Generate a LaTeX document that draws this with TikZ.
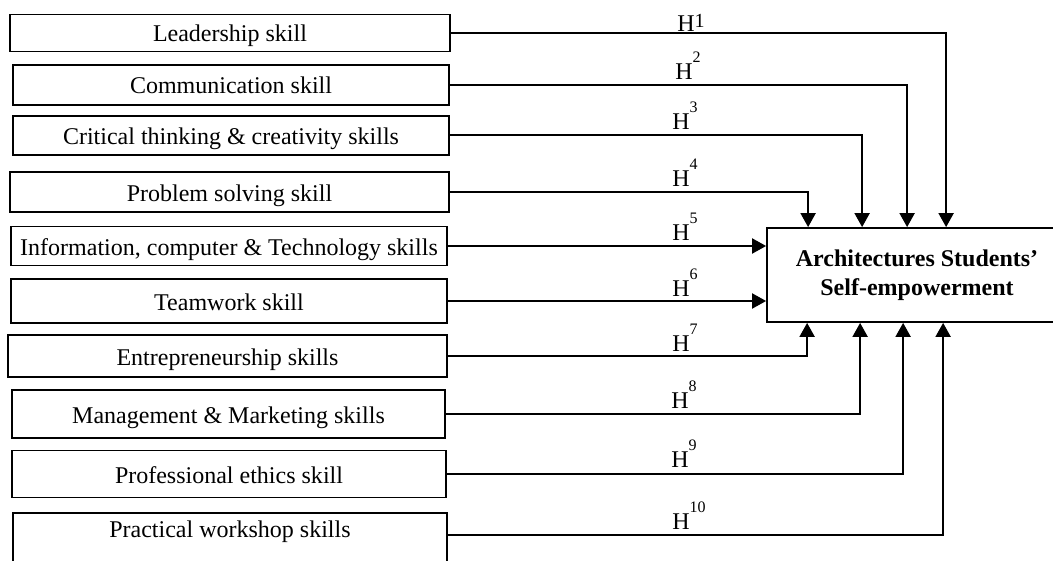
\documentclass[tikz,border=0pt]{standalone}
\usepackage{fontspec}
\setmainfont{Liberation Serif}
\usetikzlibrary{arrows.meta}

\newcommand\hyp[2][8.5pt]{H\raisebox{#1}{\fontsize{8}{8}\selectfont #2}}

\begin{document}
\begin{tikzpicture}[x=0.5pt,y=-0.5pt,
  skill/.style={draw,line width=0.9pt,inner sep=0pt,minimum width=218pt,
    text height=11pt,text depth=2pt,font=\fontsize{12}{14.5}\selectfont},
  outcome/.style={draw,line width=0.9pt,inner sep=0pt,align=center,
    font=\fontsize{12}{14.5}\selectfont\bfseries},
  link/.style={line width=1pt,-{Triangle[width=7.5pt,length=7pt]}},
  hlabel/.style={anchor=south west,inner sep=0pt,font=\fontsize{12}{14.5}\selectfont}]
  \useasboundingbox (0,0) rectangle (1053,561);

  \node[skill,minimum width=220pt,minimum height=18.5pt] (lead) at (230,33) {Leadership skill};
  \node[skill,minimum height=20pt] (comm) at (231,85) {Communication skill};
  \node[skill,minimum height=19.5pt] (crit) at (231,135.5) {Critical thinking \& creativity skills};
  \node[skill,minimum width=219.5pt,minimum height=20pt] (prob) at (229.5,192) {Problem solving skill};
  \node[skill,minimum height=19.5pt] (info) at (229,246) {Information, computer \& Technology skills};
  \node[skill,minimum height=22pt] (team) at (229,301) {Teamwork skill};
  \node[skill,minimum width=219.5pt,minimum height=21pt] (entr) at (227.5,356) {Entrepreneurship skills};
  \node[skill,minimum width=216.5pt,minimum height=24pt] (mgmt) at (228.5,414) {Management \& Marketing skills};
  \node[skill,minimum width=217pt,minimum height=23.5pt] (ethi) at (229,474) {Professional ethics skill};
  \node[skill,minimum width=217pt,anchor=north,text height=12.5pt,text depth=25pt] (prac) at (230,512) {Practical workshop skills};

  \node[outcome,minimum width=150pt,minimum height=47pt] (ase) at (917,275) {Architectures Students'\\Self-empowerment};

  \draw[link] (lead.east) -| ([xshift=90pt]ase.north west);
  \draw[link] (comm.east) -| ([xshift=70.5pt]ase.north west);
  \draw[link] (crit.east) -| ([xshift=48pt]ase.north west);
  \draw[link] (prob.east) -| ([xshift=21pt]ase.north west);
  \draw[link] (info.east) -- (info.east -| ase.west);
  \draw[link] (team.east) -- (team.east -| ase.west);
  \draw[link] (entr.east) -| ([xshift=20.5pt]ase.south west);
  \draw[link] (mgmt.east) -| ([xshift=47pt]ase.south west);
  \draw[link] (ethi.east) -| ([xshift=68.5pt]ase.south west);
  \draw[link] ([yshift=-11.5pt]prac.north east) -| ([xshift=88.5pt]ase.south west);

  \node[hlabel] (h1) at (677,31.5) {H\raisebox{2pt}{\fontsize{10}{10}\selectfont 1}};
  \node[hlabel] (h2) at (675,80) {\hyp{2}};
  \node[hlabel] (h3) at (672,130) {\hyp{3}};
  \node[hlabel] (h4) at (672,187) {\hyp{4}};
  \node[hlabel] (h5) at (672,241) {\hyp{5}};
  \node[hlabel] (h6) at (672,297) {\hyp{6}};
  \node[hlabel] (h7) at (672,352) {\hyp{7}};
  \node[hlabel] (h8) at (671,409) {\hyp{8}};
  \node[hlabel] (h9) at (671,468) {\hyp{9}};
  \node[hlabel] (h10) at (672,530) {\hyp{10}};
\end{tikzpicture}
\end{document}
